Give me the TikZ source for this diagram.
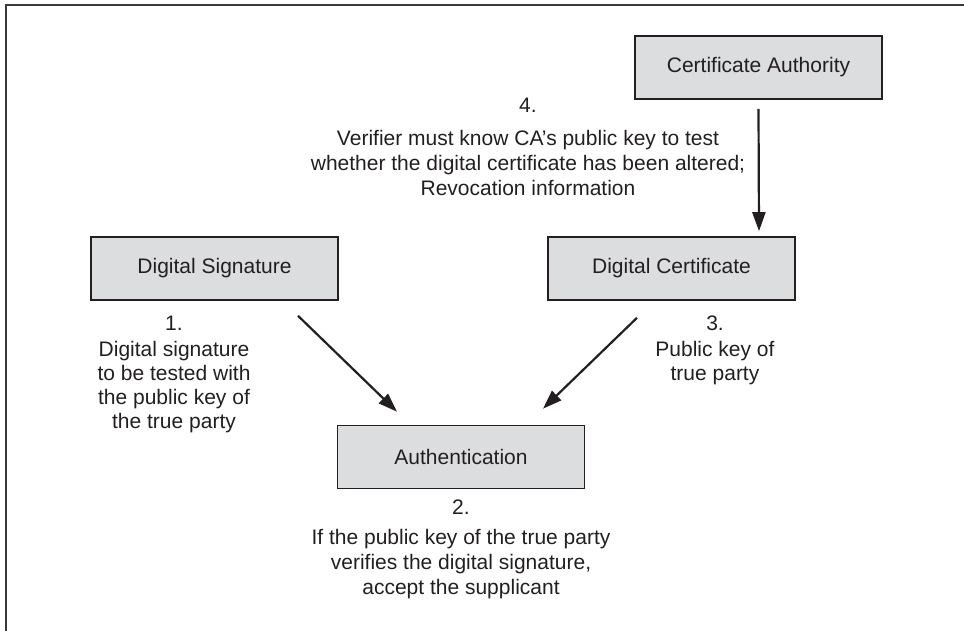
\documentclass[tikz,border=0pt]{standalone}
\usepackage{fontspec}
\setmainfont{Liberation Sans}
\usepackage{xcolor}
\usepackage{tikz}
\usetikzlibrary{positioning, arrows.meta}

\definecolor{inkgray}{HTML}{231F20}
\definecolor{boxgray}{HTML}{DCDDDF}
\definecolor{framegray}{HTML}{3A3A3A}

\begin{document}
\begin{tikzpicture}[
            x=1pt, y=-1pt,
            entity/.style={draw=inkgray, line width=1.6pt, fill=boxgray, rectangle, minimum width=247pt, minimum height=63pt, text=inkgray, font=\fontsize{21}{24}\selectfont},
            note/.style={align=center, inner sep=0pt, text=inkgray, font=\fontsize{21}{24}\selectfont},
            widenote/.style={note, font=\fontsize{21}{25}\selectfont},
            flow/.style={draw=inkgray, line width=2.2pt, -{Triangle[length=19pt, width=13pt]}},
            frame/.style={draw=framegray, line width=1.6pt}
        ]
        \useasboundingbox (0,0) rectangle (964,631);

        % Rahmen
        \draw[frame] (6,631) -- (6,5) -- (964,5);

        % Knoten
        \node[entity] (ca) at (758.5,67.5) {Certificate Authority};
        \node[entity] (dsig) at (214.5,268.5) {Digital Signature};
        \node[entity] (dcert) at (671.5,268.5) {Digital Certificate};
        \node[entity] (auth) at (461,457) {Authentication};

        % Texte
        \node[note, anchor=north] (n1) at (174,316) {1.\\[2pt]Digital signature\\to be tested with\\the public key of\\the true party};
        \node[widenote, below=10pt of auth] (n2) {2.\\[5pt]If the public key of the true party\\verifies the digital signature,\\accept the supplicant};
        \node[note, anchor=north] (n3) at (715,316) {3.\\[2pt]Public key of\\true party};
        \node[widenote, anchor=north] (n4) at (528,98) {4.\\[8pt]Verifier must know CA’s public key to test\\whether the digital certificate has been altered;\\Revocation information};

        % Kanten
        \draw[flow] ([yshift=-9pt]ca.south) -- ([xshift=87.5pt, yshift=5pt]dcert.north);
        \draw[flow] ([xshift=83.5pt, yshift=-15pt]dsig.south) -- ([xshift=-64pt, yshift=13pt]auth.north);
        \draw[flow] ([xshift=-34.5pt, yshift=-17pt]dcert.south) -- ([xshift=82pt, yshift=16pt]auth.north);

    \end{tikzpicture}
\end{document}
